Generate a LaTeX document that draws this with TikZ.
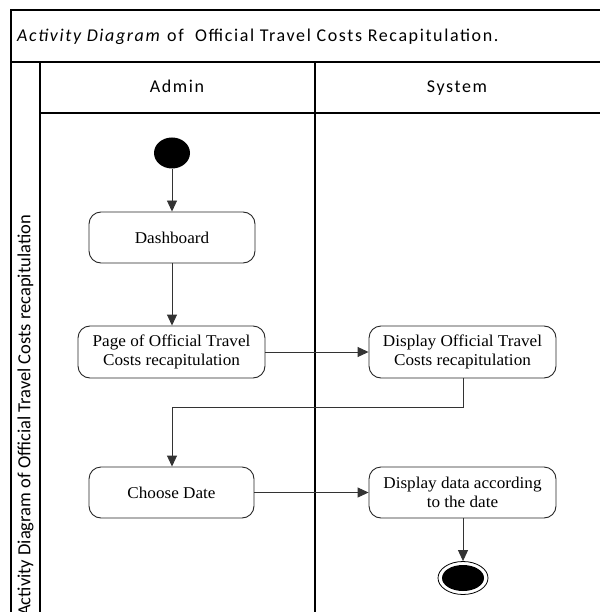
\documentclass[tikz,border=0pt]{standalone}
\usepackage{fontspec}
\setmainfont{Liberation Serif}[FakeStretch=1.04]
\newfontfamily\hdrfont{Carlito}[LetterSpace=9]
\newfontfamily\sidefont{Carlito}
\usetikzlibrary{arrows.meta,shapes.geometric}
\begin{document}
\begin{tikzpicture}[x=1pt,y=-1pt,
  frame/.style={line width=1.2pt,black},
  act/.style={draw=black!85,line width=0.9pt,rounded corners=12pt,inner sep=0pt,align=center,
     font=\fontsize{16.5}{18.5}\selectfont},
  flow/.style={draw=black!80,line width=0.9pt,-{Triangle[length=11pt,width=10pt]}},
  hdr/.style={font=\hdrfont\fontsize{18}{20}\selectfont}]
\useasboundingbox (0,0) rectangle (600,612);
% frame
\draw[frame] (11,612) -- (11,10) -- (600,10);
\draw[frame] (11,62) -- (600,62);
\draw[frame] (40,612) -- (40,62);
\draw[frame] (40,113) -- (600,113);
\draw[frame] (315,62) -- (315,612);
% texts
\node[hdr,anchor=west,inner sep=0pt] (title) at (17,37) {\textit{Activity Diagram} of \ Official Travel Costs Recapitulation.};
\node[hdr,anchor=base,inner sep=0pt] (admin) at (177,93) {Admin};
\node[hdr,anchor=base,inner sep=0pt] (system) at (457,93) {System};
\node[rotate=90,anchor=east,inner sep=0pt,font=\sidefont\fontsize{18.5}{20}\selectfont] (side) at (25.5,215) {Activity Diagram of Official Travel Costs recapitulation};
% nodes
\node[ellipse,fill=black,minimum width=36pt,minimum height=31pt,inner sep=0pt] (start) at (172,153) {};
\node[act,minimum width=166pt,minimum height=51pt] (dash) at (172,237.5) {Dashboard};
\node[act,minimum width=187pt,minimum height=52pt] (page) at (171.5,352) {Page of Official Travel\\Costs recapitulation};
\node[act,minimum width=187pt,minimum height=52pt] (disp) at (462.5,352) {Display Official Travel\\Costs recapitulation};
\node[act,minimum width=165pt,minimum height=51pt] (choose) at (171.5,492.5) {Choose Date};
\node[act,minimum width=187pt,minimum height=51pt] (data) at (462.5,492.5) {Display data according\\to the date};
\node[ellipse,draw=black,line width=0.8pt,minimum width=50pt,minimum height=33pt,inner sep=0pt] (end) at (463,578) {};
\node[ellipse,fill=black,minimum width=42pt,minimum height=26pt,inner sep=0pt] (endin) at (463,578) {};
\coordinate (c1) at (463,407);
\coordinate (c2) at (172,407);
% flows
\draw[flow] (start) -- (dash);
\draw[flow] (dash.south -| c2) -- (page.north -| c2);
\draw[flow] (page) -- (disp);
\draw[flow] (disp.south -| c1) -- (c1) -- (c2) -- (choose.north -| c2);
\draw[flow] (choose) -- (data);
\draw[flow] (data.south -| end) -- (end);
\end{tikzpicture}
\end{document}
